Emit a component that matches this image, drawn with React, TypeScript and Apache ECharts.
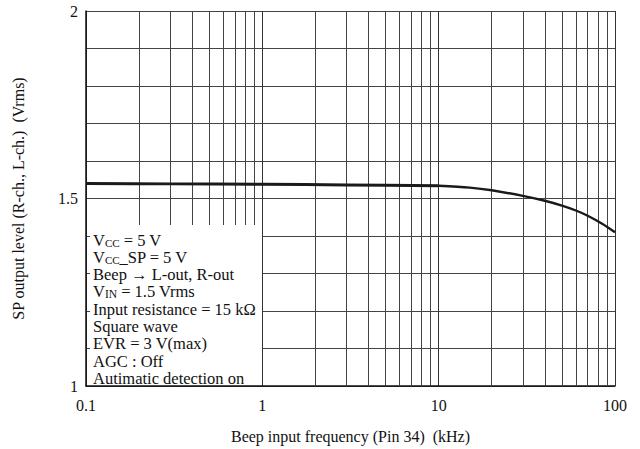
import React, { useEffect, useRef } from "react";
import * as echarts from "echarts";

// Frequencies (kHz) and output level (Vrms)
const freqLow = [0.1, 0.3, 1, 3, 10];
const levelLow = [1.54, 1.539, 1.538, 1.536, 1.534];
const freqHigh = [10, 15, 20, 30, 40, 50, 60, 70, 85, 100];
const levelHigh = [1.534, 1.529, 1.522, 1.507, 1.494, 1.481, 1.468, 1.454, 1.432, 1.41];

const xMinorGrid = [
  0.2, 0.3, 0.4, 0.5, 0.6, 0.7, 0.8, 0.9,
  2, 3, 4, 5, 6, 7, 8, 9,
  20, 30, 40, 50, 60, 70, 80, 90,
];
const yLabelValues = [1, 1.5, 2];

const conditions: string[] = [
  "V{sub|CC} = 5 V",
  "V{sub|CC}_SP = 5 V",
  "Beep → L-out, R-out",
  "V{sm|IN} = 1.5 Vrms",
  "Input resistance = 15 kΩ",
  "Square wave",
  "EVR = 3 V(max)",
  "AGC : Off",
  "Autimatic detection on",
];

const FONT = "'Liberation Serif', 'Times New Roman', serif";

export default function App() {
  const ref = useRef<HTMLDivElement>(null);
  useEffect(() => {
    if (!ref.current) return;
    const chart = echarts.init(ref.current, undefined, { renderer: "svg" });
    const textEls = conditions.map((t, i) => ({
      type: "text",
      x: 93,
      y: 231.5 + i * 17.3,
      z: 101,
      style: {
        text: t,
        fill: "#111",
        fontSize: 16.5,
        lineHeight: 17,
        fontFamily: FONT,
        rich: {
          sub: { fontSize: 11, lineHeight: 11, fontFamily: FONT, fill: "#111", padding: [6, 0, 0, 0] },
          sm: { fontSize: 11.5, lineHeight: 13, fontFamily: FONT, fill: "#111", padding: [4, 0, 0, 0] },
        },
      },
    }));
    chart.setOption({
      animation: false,
      backgroundColor: "#fff",
      grid: { left: 86, right: 25, top: 11, bottom: 61, containLabel: false },
      xAxis: {
        type: "log",
        logBase: 10,
        min: 0.1,
        max: 100,
        name: "Beep input frequency (Pin 34)  (kHz)",
        nameLocation: "middle",
        nameGap: 42,
        nameTextStyle: { fontFamily: FONT, fontSize: 16, color: "#111" },
        axisLine: { show: true, lineStyle: { color: "#111", width: 1.5 } },
        axisTick: { show: false },
        axisLabel: {
          fontFamily: FONT,
          fontSize: 16,
          color: "#111",
          margin: 11,
          formatter: (v: number) => String(v),
        },
        splitLine: { show: true, lineStyle: { color: "#333", width: 1 } },
      },
      yAxis: {
        type: "value",
        min: 1,
        max: 2,
        interval: 0.1,
        name: "SP output level (R-ch., L-ch.)  (Vrms)",
        nameLocation: "middle",
        nameGap: 60,
        nameTextStyle: { fontFamily: FONT, fontSize: 16, color: "#111" },
        axisLine: { show: true, lineStyle: { color: "#111", width: 1.5 } },
        axisTick: { show: false },
        axisLabel: {
          fontFamily: FONT,
          fontSize: 16,
          color: "#111",
          margin: 8,
          formatter: (v: number) => {
            const r = Math.round(v * 10) / 10;
            return yLabelValues.some((y) => Math.abs(y - r) < 1e-6) ? String(r) : "";
          },
        },
        splitLine: { show: true, lineStyle: { color: "#444", width: 1 } },
      },
      series: [
        {
          type: "line",
          data: [],
          silent: true,
          markLine: {
            silent: true,
            symbol: "none",
            label: { show: false },
            lineStyle: { color: "#444", width: 1, type: "solid" },
            data: xMinorGrid.map((v) => ({ xAxis: v })),
          },
        },
        {
          type: "line",
          data: freqLow.map((f, i) => [f, levelLow[i]]),
          showSymbol: false,
          smooth: 0.3,
          lineStyle: { color: "#1a1a1a", width: 3 },
          z: 5,
        },
        {
          type: "line",
          data: freqHigh.map((f, i) => [f, levelHigh[i]]),
          showSymbol: false,
          smooth: 0.3,
          lineStyle: { color: "#1a1a1a", width: 2.4 },
          z: 5,
        },
      ],
      graphic: [
        {
          type: "rect",
          z: 100,
          shape: { x: 90, y: 225, width: 172, height: 160 },
          style: { fill: "#fff" },
        },
        ...textEls,
      ],
    });
    return () => chart.dispose();
  }, []);
  return (
    <div
      ref={ref}
      style={{ position: "fixed", left: 0, top: 0, width: 640, height: 449 }}
    />
  );
}
